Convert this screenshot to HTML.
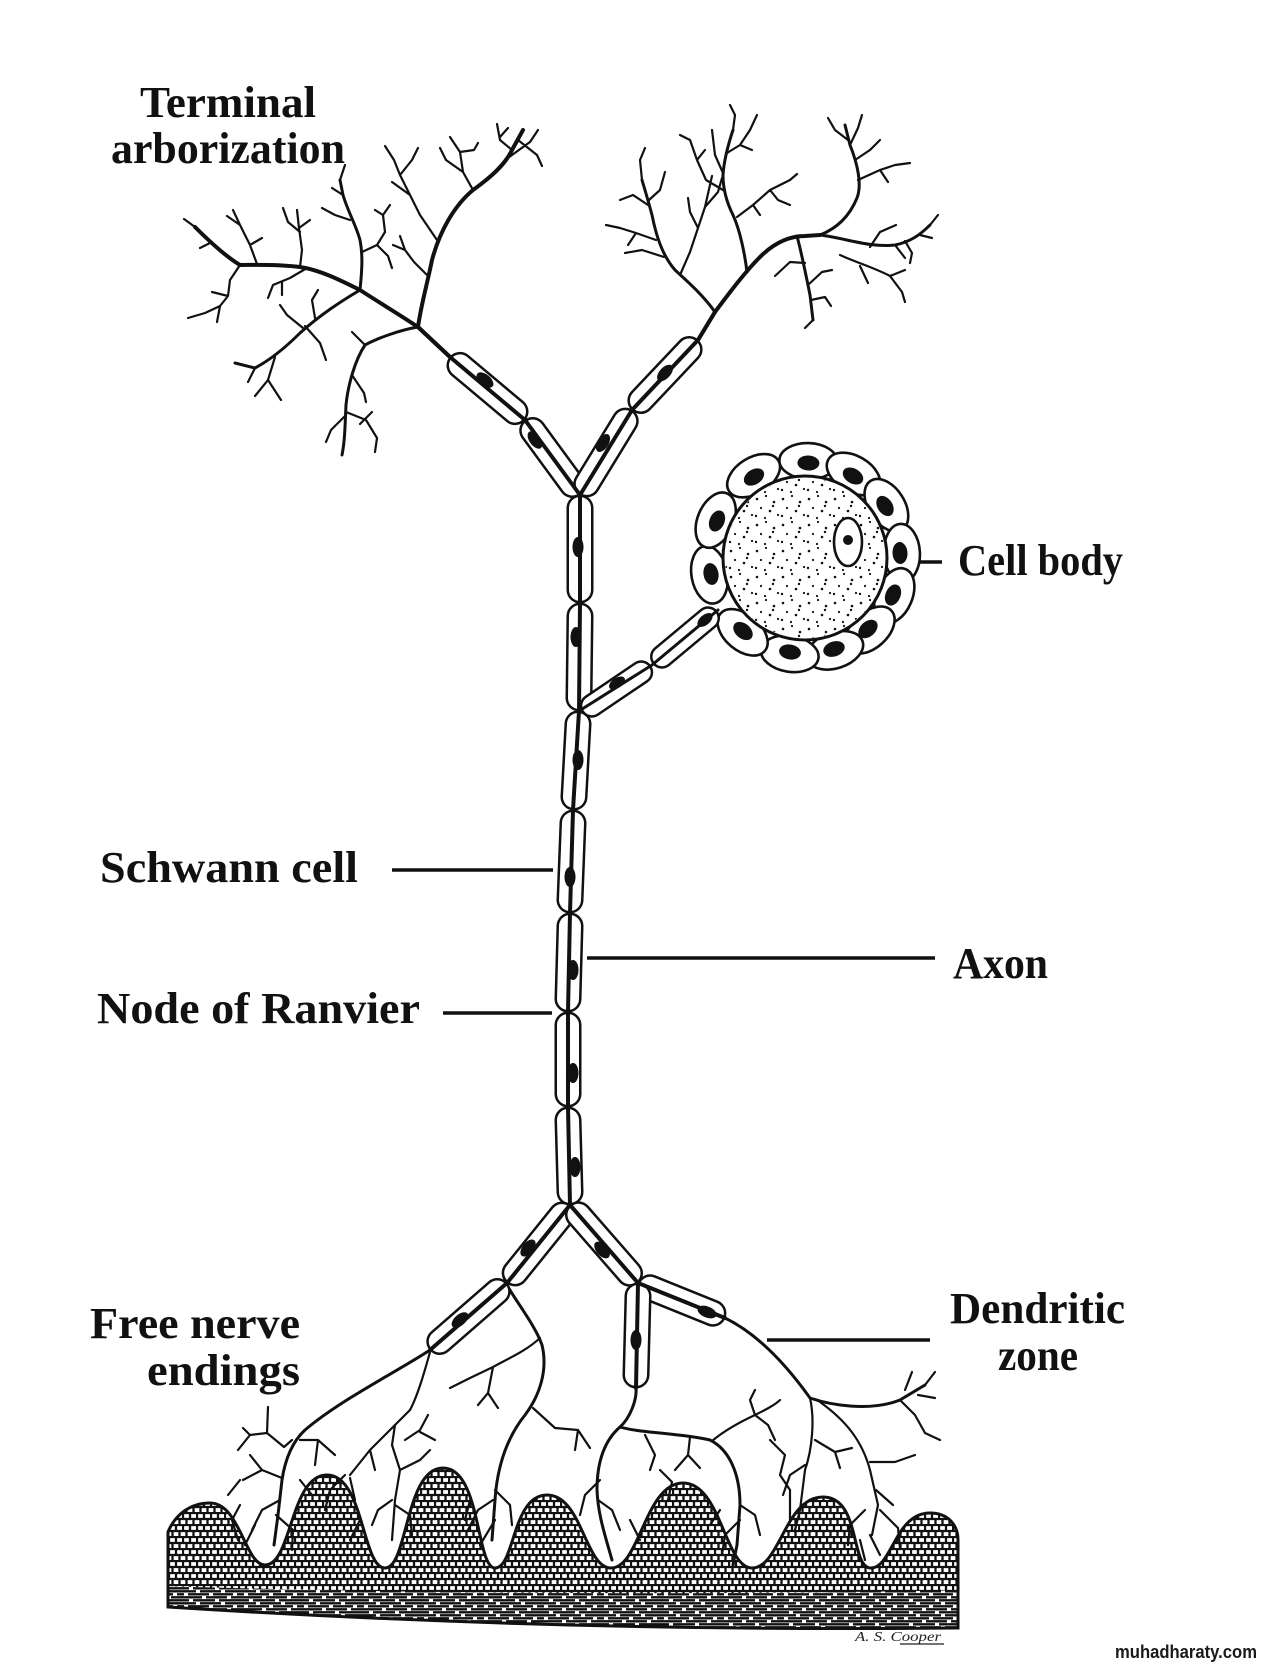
<!DOCTYPE html>
<html>
<head>
<meta charset="utf-8">
<style>
html,body{margin:0;padding:0;background:#fff;}
svg{display:block;}
.lbl{font-family:"Liberation Serif",serif;font-weight:bold;font-size:44px;fill:#111;}
.thick{fill:none;stroke:#111;stroke-width:4;stroke-linecap:round;stroke-linejoin:round;}
.med{fill:none;stroke:#111;stroke-width:3;stroke-linecap:round;stroke-linejoin:round;}
.thin{fill:none;stroke:#111;stroke-width:2.2;stroke-linecap:round;stroke-linejoin:round;}
.cb{stroke:#111;stroke-width:27;stroke-linecap:round;}
.cw{stroke:#fff;stroke-width:22;stroke-linecap:round;}
.sb{stroke:#111;stroke-width:24;stroke-linecap:round;}
.sw{stroke:#fff;stroke-width:19;stroke-linecap:round;}
</style>
</head>
<body>
<svg width="1264" height="1664" viewBox="0 0 1264 1664" xmlns="http://www.w3.org/2000/svg">
<defs>
  <pattern id="mesh" width="14" height="12" patternUnits="userSpaceOnUse">
    <rect width="14" height="12" fill="#fff"/>
    <path d="M0 1H14M0 7H14M1 0V7M8 0V7M4.5 7V12M11.5 7V12" stroke="#111" stroke-width="2.3" fill="none"/>
  </pattern>
  <pattern id="streak" width="60" height="12" patternUnits="userSpaceOnUse">
    <rect width="60" height="12" fill="#fff"/>
    <path d="M0 1.3H22M26 1.3H47M51 1.3H60 M0 4.3H9M13 4.3H35M39 4.3H60 M0 7.3H16M20 7.3H41M45 7.3H60 M0 10.3H4M8 10.3H29M33 10.3H53M57 10.3H60" stroke="#111" stroke-width="2.3" fill="none"/>
  </pattern>
  <pattern id="dots" width="26" height="26" patternUnits="userSpaceOnUse">
    <circle cx="3" cy="5" r="1.3" fill="#111"/>
    <circle cx="12" cy="2" r="1.1" fill="#111"/>
    <circle cx="20" cy="8" r="1.3" fill="#111"/>
    <circle cx="7" cy="14" r="1.1" fill="#111"/>
    <circle cx="16" cy="17" r="1.3" fill="#111"/>
    <circle cx="24" cy="21" r="1.1" fill="#111"/>
    <circle cx="2" cy="22" r="1.2" fill="#111"/>
    <circle cx="11" cy="24" r="1.1" fill="#111"/>
    <circle cx="19" cy="12" r="1.2" fill="#111"/>
  </pattern>
  <clipPath id="somaclip"><circle cx="805" cy="558" r="80"/></clipPath>
  <clipPath id="skinclip">
    <path d="M168,1607 L168,1532 C175,1515 190,1503 210,1503 C240,1503 245,1565 265,1565 C292,1565 290,1475 327,1475 C364,1475 362,1568 385,1568 C408,1568 405,1468 443,1468 C481,1468 476,1568 495,1568 C515,1568 512,1495 547,1495 C582,1495 585,1568 611,1568 C640,1568 645,1483 683,1483 C721,1483 725,1568 752,1568 C780,1568 785,1497 823,1497 C861,1497 850,1568 871,1568 C892,1568 895,1513 930,1513 C948,1513 958,1525 958,1540 L958,1628 Q560,1632 168,1607 Z"/>
  </clipPath>
</defs>

<rect width="1264" height="1664" fill="#fff"/>

<!-- ===== Labels ===== -->
<text class="lbl" x="140" y="117" textLength="176" lengthAdjust="spacingAndGlyphs">Terminal</text>
<text class="lbl" x="111" y="163" textLength="234" lengthAdjust="spacingAndGlyphs">arborization</text>
<text class="lbl" x="958" y="575" textLength="165" lengthAdjust="spacingAndGlyphs">Cell body</text>
<text class="lbl" x="100" y="882" textLength="258" lengthAdjust="spacingAndGlyphs">Schwann cell</text>
<text class="lbl" x="953" y="978" textLength="95" lengthAdjust="spacingAndGlyphs">Axon</text>
<text class="lbl" x="97" y="1023" textLength="323" lengthAdjust="spacingAndGlyphs">Node of Ranvier</text>
<text class="lbl" x="90" y="1338" textLength="210" lengthAdjust="spacingAndGlyphs">Free nerve</text>
<text class="lbl" x="147" y="1385" textLength="153" lengthAdjust="spacingAndGlyphs">endings</text>
<text class="lbl" x="950" y="1323" textLength="175" lengthAdjust="spacingAndGlyphs">Dendritic</text>
<text class="lbl" x="998" y="1370" textLength="80" lengthAdjust="spacingAndGlyphs">zone</text>

<!-- leader lines -->
<g stroke="#111" stroke-width="3.5" stroke-linecap="butt">
  <line x1="392" y1="870" x2="553" y2="870"/>
  <line x1="443" y1="1013" x2="552" y2="1013"/>
  <line x1="587" y1="958" x2="935" y2="958"/>
  <line x1="767" y1="1340" x2="930" y2="1340"/>
  <line x1="920" y1="562" x2="942" y2="562"/>
</g>

<!-- ===== Skin ===== -->
<g clip-path="url(#skinclip)">
  <rect x="160" y="1460" width="810" height="180" fill="url(#mesh)"/>
  <path d="M160,1586 Q560,1598 970,1590 L970,1640 L160,1640 Z" fill="url(#streak)"/>
</g>
<path d="M168,1607 L168,1532 C175,1515 190,1503 210,1503 C240,1503 245,1565 265,1565 C292,1565 290,1475 327,1475 C364,1475 362,1568 385,1568 C408,1568 405,1468 443,1468 C481,1468 476,1568 495,1568 C515,1568 512,1495 547,1495 C582,1495 585,1568 611,1568 C640,1568 645,1483 683,1483 C721,1483 725,1568 752,1568 C780,1568 785,1497 823,1497 C861,1497 850,1568 871,1568 C892,1568 895,1513 930,1513 C948,1513 958,1525 958,1540 L958,1628 Q560,1632 168,1607 Z" fill="none" stroke="#111" stroke-width="3"/>

<!-- ===== Terminal arborization: left tree ===== -->
<path class="thick" d="M450,357 L418,327"/>
<path class="thick" d="M418,327 C421,305 427,285 432,260 C440,230 455,205 473,190 C490,178 505,165 512,150 L523,130"/>
<path class="thick" d="M418,327 C400,315 380,303 360,290 C340,280 320,270 300,267 C275,264 255,265 240,265 C225,256 210,242 195,227"/>
<path class="med" d="M360,290 C362,270 363,255 360,240 C356,225 348,212 343,195 L340,180"/>
<path class="med" d="M360,290 C340,302 320,315 300,333 C285,348 270,360 255,368 L235,363"/>
<path class="med" d="M418,327 C400,330 378,338 365,345 C355,360 348,385 346,405 C345,425 345,440 342,455"/>
<path class="thin" d="M512,150 L500,140 L497,124 M505,160 L530,142 L538,130 M518,140 L537,155 L542,166 M500,137 L508,128
M473,190 L463,172 L460,152 L450,137 M463,172 L446,160 L440,148 M460,152 L474,150 L478,143
M437,240 L420,215 L410,195 L400,175 L394,160 M410,195 L392,182 M400,175 L412,160 L418,148 M394,160 L385,146
M427,275 L414,262 L405,250 L400,236 M405,250 L393,245
M362,252 L377,245 L385,232 L383,215 L390,205 M377,245 L388,256 L392,268 M383,215 L375,210
M350,220 L335,215 L322,208 M343,195 L332,188 M340,180 L345,165
M300,267 L302,250 L299,228 L297,210 M300,232 L288,222 L283,208 M299,228 L310,220
M257,264 L250,245 L240,225 L233,210 M240,225 L227,216 M250,245 L262,238
M240,265 L230,280 L228,296 L220,306 L205,313 L188,318 M220,306 L217,322 M228,296 L212,292
M195,227 L184,219 M212,242 L200,248
M307,268 L290,278 L273,285 L268,298 M282,282 L282,295
M315,318 L312,300 L318,290 M303,328 L287,315 L280,305 M305,326 L320,343 L326,360
M275,357 L268,380 L255,396 M268,380 L281,400 M255,368 L248,382
M365,345 L352,332 M352,375 L364,393 L366,402 M346,415 L331,430 L326,442
M346,412 L366,420 L377,438 L375,452 M360,424 L372,412"/>

<!-- ===== right tree ===== -->
<path class="thick" d="M698,340 L715,312"/>
<path class="thick" d="M715,312 C730,292 745,272 760,257 C775,242 790,236 805,236 L820,235"/>
<path class="med" d="M715,312 C703,295 688,282 675,270 C662,255 656,235 652,215 C648,200 645,190 642,180"/>
<path class="med" d="M747,272 C745,255 740,230 733,215 C727,203 723,190 723,175 C724,160 728,145 733,130"/>
<path class="med" d="M820,235 C838,228 850,215 857,198 C862,185 858,165 850,145 L845,125"/>
<path class="med" d="M820,235 C845,238 870,248 895,245 C910,242 920,235 930,225"/>
<path class="med" d="M797,236 C802,255 806,275 810,295 L813,320"/>
<path class="thin" d="M680,275 L690,252 L698,228 L705,207 L712,176 M705,207 L718,192 L722,178 M698,228 L690,212 L688,198
M664,257 L642,250 L625,253 M656,240 L636,233 L620,228 L606,225 M648,205 L633,195 L620,200 M649,200 L660,190 L665,172
M642,180 L640,160 L645,148 M636,233 L628,245
M723,190 L706,180 L697,160 L690,140 L680,135 M697,160 L705,150 M727,153 L740,145 L750,130 L757,115 M740,145 L752,150
M723,173 L715,155 L712,130 M733,130 L735,115 L730,105
M737,217 L753,205 L770,190 L790,180 L797,174 M770,190 L778,200 L790,205 M753,205 L760,215
M805,263 L790,262 L775,276 M808,285 L822,272 L832,270 M811,300 L825,297 L831,306 M813,320 L805,328
M858,180 L880,170 L895,165 L910,163 M880,170 L888,182 M855,160 L870,150 L880,140 M848,140 L835,130 L828,118 M850,145 L858,128 L862,115
M870,247 L880,232 L896,225 M905,241 L912,253 L910,263 M895,245 L905,258 M930,225 L938,215 M920,235 L932,238
M840,255 C855,262 875,268 890,276 L902,292 L905,302 M890,276 L905,270 M860,266 L868,283"/>

<!-- ===== Lower nerve endings ===== -->
<path class="med" d="M430,1350 C400,1370 340,1400 305,1430 C292,1442 285,1460 282,1480 L278,1515 L274,1545"/>
<path class="thin" d="M430,1352 C425,1370 418,1395 410,1410"/>
<path class="med" d="M507,1285 C515,1300 535,1325 542,1345 C548,1370 540,1395 525,1415 C505,1440 497,1470 495,1500 L492,1540"/>
<path class="thin" d="M540,1338 C525,1352 505,1360 493,1367 L470,1378 L450,1388 M493,1367 L488,1393 L478,1405 M488,1393 L498,1408
M533,1408 L555,1428 L578,1430 L590,1448 M578,1430 L575,1450
M300,1440 L318,1440 L335,1455 M318,1440 L315,1465 M282,1478 L262,1470 L243,1480 M262,1470 L250,1455
M280,1500 L262,1510 L252,1530 M276,1515 L293,1530 L292,1550
M268,1407 L267,1433 L250,1435 L238,1450 M267,1433 L284,1447 L292,1440 M250,1435 L243,1428 M240,1480 L228,1495
M410,1410 L395,1425 L370,1450 L350,1475 M370,1450 L375,1470
M395,1425 L392,1445 L400,1470 L395,1500 L392,1540 M400,1470 L420,1460 L430,1450 M405,1440 L420,1430 L428,1415 M420,1432 L435,1440
M392,1500 L378,1510 L372,1525 M395,1505 L410,1515 L412,1535
M493,1500 L478,1510 L468,1530 M495,1490 L510,1505 L512,1525 M495,1520 L480,1545
M300,1480 L312,1495 M345,1475 L330,1490 L325,1510 M350,1478 L355,1500
M240,1505 L232,1520 L238,1540 M255,1525 L245,1545 M470,1500 L465,1520 M360,1520 L350,1540"/>

<path class="med" d="M725,1318 C760,1335 790,1370 810,1398 C830,1405 870,1412 900,1400 L925,1385"/>
<path class="med" d="M636,1388 C637,1400 630,1418 620,1427 C605,1440 597,1460 597,1490 C598,1515 605,1535 612,1560"/>
<path class="med" d="M620,1427 C640,1433 680,1433 710,1440 C730,1450 740,1475 740,1505 L737,1545 L733,1565"/>
<path class="thin" d="M810,1398 C815,1420 812,1450 805,1470 L800,1510 M820,1402 C845,1420 862,1440 870,1470 L878,1505 L872,1535
M900,1400 L915,1415 L925,1433 M905,1390 L912,1372 M925,1385 L935,1372 M918,1395 L935,1398 M925,1433 L940,1440
M815,1440 L835,1452 L852,1448 M835,1452 L840,1468 M805,1465 L790,1475 L783,1495
M870,1462 L895,1462 L915,1455 M876,1490 L893,1505 M865,1510 L850,1525 L848,1545 M880,1510 L898,1528 L900,1548
M712,1441 C725,1430 740,1422 755,1415 C765,1410 775,1405 780,1400 M755,1415 L750,1400 L755,1390 M755,1415 L768,1425 L775,1440
M770,1440 L785,1455 L780,1475 M690,1437 L688,1455 L675,1470 M688,1455 L700,1468 M660,1470 L672,1482 L668,1500
M740,1505 L755,1515 L760,1535 M740,1520 L725,1535 L722,1555 M600,1480 L585,1495 L580,1515 M598,1500 L612,1510 L620,1530
M645,1435 L655,1455 L650,1470 M780,1475 L790,1490 L790,1520 M870,1535 L880,1555 M800,1510 L795,1530
M630,1520 L640,1540 M720,1510 L710,1525 M860,1540 L865,1560"/>

<!-- ===== Cell body ===== -->
<g fill="#fff" stroke="#111" stroke-width="2.6">
  <ellipse cx="0" cy="0" rx="29" ry="18" transform="translate(808.4,461.1) rotate(2)"/>
  <ellipse cx="0" cy="0" rx="29" ry="18" transform="translate(853.5,474) rotate(30)"/>
  <ellipse cx="0" cy="0" rx="29" ry="18" transform="translate(886.4,505.2) rotate(57)"/>
  <ellipse cx="0" cy="0" rx="29" ry="18" transform="translate(901.9,552.9) rotate(87)"/>
  <ellipse cx="0" cy="0" rx="29" ry="18" transform="translate(894.3,595.9) rotate(113)"/>
  <ellipse cx="0" cy="0" rx="29" ry="18" transform="translate(869.9,630.1) rotate(138)"/>
  <ellipse cx="0" cy="0" rx="29" ry="18" transform="translate(835,650.3) rotate(162)"/>
  <ellipse cx="0" cy="0" rx="29" ry="18" transform="translate(789.8,653.8) rotate(189)"/>
  <ellipse cx="0" cy="0" rx="29" ry="18" transform="translate(742.6,632.3) rotate(220)"/>
  <ellipse cx="0" cy="0" rx="29" ry="18" transform="translate(709.5,574.8) rotate(260)"/>
  <ellipse cx="0" cy="0" rx="29" ry="18" transform="translate(715.7,520.1) rotate(293)"/>
  <ellipse cx="0" cy="0" rx="29" ry="18" transform="translate(753.6,475.7) rotate(328)"/>
</g>
<g fill="#111">
  <ellipse cx="0" cy="0" rx="11" ry="7.5" transform="translate(808.4,463) rotate(2)"/>
  <ellipse cx="0" cy="0" rx="11" ry="7.5" transform="translate(853,476) rotate(30)"/>
  <ellipse cx="0" cy="0" rx="11" ry="7.5" transform="translate(885,506) rotate(57)"/>
  <ellipse cx="0" cy="0" rx="11" ry="7.5" transform="translate(900,553) rotate(87)"/>
  <ellipse cx="0" cy="0" rx="11" ry="7.5" transform="translate(893,595) rotate(113)"/>
  <ellipse cx="0" cy="0" rx="11" ry="7.5" transform="translate(868,629) rotate(138)"/>
  <ellipse cx="0" cy="0" rx="11" ry="7.5" transform="translate(834,649) rotate(162)"/>
  <ellipse cx="0" cy="0" rx="11" ry="7.5" transform="translate(790,652) rotate(189)"/>
  <ellipse cx="0" cy="0" rx="11" ry="7.5" transform="translate(743,631) rotate(220)"/>
  <ellipse cx="0" cy="0" rx="11" ry="7.5" transform="translate(711,574) rotate(260)"/>
  <ellipse cx="0" cy="0" rx="11" ry="7.5" transform="translate(717,521) rotate(293)"/>
  <ellipse cx="0" cy="0" rx="11" ry="7.5" transform="translate(754,477) rotate(328)"/>
</g>
<circle cx="805" cy="558" r="82" fill="#fff" stroke="#111" stroke-width="3"/>
<rect x="720" y="474" width="170" height="170" fill="url(#dots)" clip-path="url(#somaclip)"/>
<ellipse cx="848" cy="542" rx="14" ry="24" fill="#fff" stroke="#111" stroke-width="2.6"/>
<circle cx="848" cy="540" r="5" fill="#111"/>

<!-- ===== Schwann cell capsules ===== -->
<g>
  <line class="cb" x1="515" y1="411.6" x2="460" y2="365.4"/><line class="cw" x1="515" y1="411.6" x2="460" y2="365.4"/>
  <line class="cb" x1="572.3" y1="484.5" x2="532.7" y2="430.5"/><line class="cw" x1="572.3" y1="484.5" x2="532.7" y2="430.5"/>
  <line class="cb" x1="640.9" y1="400.5" x2="689.1" y2="349.5"/><line class="cw" x1="640.9" y1="400.5" x2="689.1" y2="349.5"/>
  <line class="cb" x1="586.8" y1="483.9" x2="625.2" y2="421.1"/><line class="cw" x1="586.8" y1="483.9" x2="625.2" y2="421.1"/>
  <line class="cb" x1="580" y1="508" x2="580" y2="590"/><line class="cw" x1="580" y1="508" x2="580" y2="590"/>
  <line class="cb" x1="580" y1="616" x2="579" y2="698"/><line class="cw" x1="580" y1="616" x2="579" y2="698"/>
  <line class="cb" x1="578" y1="724" x2="574" y2="797"/><line class="cw" x1="578" y1="724" x2="574" y2="797"/>
  <line class="cb" x1="573" y1="823" x2="570" y2="900"/><line class="cw" x1="573" y1="823" x2="570" y2="900"/>
  <line class="cb" x1="570" y1="926" x2="568" y2="999"/><line class="cw" x1="570" y1="926" x2="568" y2="999"/>
  <line class="cb" x1="568" y1="1025" x2="568" y2="1094"/><line class="cw" x1="568" y1="1025" x2="568" y2="1094"/>
  <line class="cb" x1="568" y1="1120" x2="570" y2="1192"/><line class="cw" x1="568" y1="1120" x2="570" y2="1192"/>
  <line class="sb" x1="591.8" y1="705.7" x2="641.2" y2="672.3"/><line class="sw" x1="591.8" y1="705.7" x2="641.2" y2="672.3"/>
  <line class="sb" x1="662" y1="656.7" x2="708" y2="618.3"/><line class="sw" x1="662" y1="656.7" x2="708" y2="618.3"/>
  <line class="cb" x1="561.8" y1="1215.1" x2="515.2" y2="1272.9"/><line class="cw" x1="561.8" y1="1215.1" x2="515.2" y2="1272.9"/>
  <line class="cb" x1="497.2" y1="1291.5" x2="439.8" y2="1341.5"/><line class="cw" x1="497.2" y1="1291.5" x2="439.8" y2="1341.5"/>
  <line class="cb" x1="578.5" y1="1214.8" x2="629.5" y2="1273.2"/><line class="cw" x1="578.5" y1="1214.8" x2="629.5" y2="1273.2"/>
  <line class="cb" x1="650.1" y1="1287.8" x2="712.9" y2="1313.2"/><line class="cw" x1="650.1" y1="1287.8" x2="712.9" y2="1313.2"/>
  <line class="cb" x1="638" y1="1296" x2="636" y2="1375"/><line class="cw" x1="638" y1="1296" x2="636" y2="1375"/>
</g>

<!-- axon line -->
<path class="thick" d="M418,327 L450,357 L525,420 L580,495 L632,410 L698,340 L715,312"/>
<path class="thick" d="M580,495 L580,603 L579,711 L573,810 L570,913 L568,1012 L568,1107 L570,1205"/>
<path class="med" d="M579,711 L652,665 L718,610"/>
<path class="thick" d="M570,1205 L507,1283 L430,1350"/>
<path class="thick" d="M570,1205 L638,1283 L725,1318 M638,1283 L636,1388"/>

<!-- Schwann nuclei -->
<g fill="#111">
  <ellipse cx="0" cy="0" rx="10" ry="5.5" transform="translate(485,380) rotate(40)"/>
  <ellipse cx="0" cy="0" rx="10" ry="5.5" transform="translate(535,440) rotate(54)"/>
  <ellipse cx="0" cy="0" rx="10" ry="5.5" transform="translate(665,373) rotate(-47)"/>
  <ellipse cx="0" cy="0" rx="10" ry="5.5" transform="translate(603,443) rotate(-58)"/>
  <ellipse cx="578" cy="547" rx="5.5" ry="10"/>
  <ellipse cx="576" cy="637" rx="5.5" ry="10"/>
  <ellipse cx="578" cy="760" rx="5.5" ry="10"/>
  <ellipse cx="570" cy="877" rx="5.5" ry="10"/>
  <ellipse cx="573" cy="970" rx="5.5" ry="10"/>
  <ellipse cx="573" cy="1073" rx="5.5" ry="10"/>
  <ellipse cx="575" cy="1167" rx="5.5" ry="10"/>
  <ellipse cx="0" cy="0" rx="9" ry="5" transform="translate(617,683) rotate(-34)"/>
  <ellipse cx="0" cy="0" rx="9" ry="5" transform="translate(705,620) rotate(-40)"/>
  <ellipse cx="0" cy="0" rx="10" ry="5.5" transform="translate(528,1248) rotate(-51)"/>
  <ellipse cx="0" cy="0" rx="10" ry="5.5" transform="translate(460,1320) rotate(-41)"/>
  <ellipse cx="0" cy="0" rx="10" ry="5.5" transform="translate(602,1250) rotate(49)"/>
  <ellipse cx="0" cy="0" rx="10" ry="5.5" transform="translate(707,1312) rotate(22)"/>
  <ellipse cx="636" cy="1340" rx="5.5" ry="10"/>
</g>

<!-- signature & watermark -->
<text x="855" y="1641" font-family="Liberation Serif, serif" font-style="italic" font-size="14" fill="#222" textLength="86" lengthAdjust="spacingAndGlyphs">A. S. Cooper</text>
<line x1="900" y1="1644" x2="944" y2="1644" stroke="#222" stroke-width="1.3"/>
<text x="1115" y="1658" font-family="Liberation Sans, sans-serif" font-weight="bold" font-size="18" fill="#1a1a1a" textLength="142" lengthAdjust="spacingAndGlyphs">muhadharaty.com</text>
</svg>
</body>
</html>
